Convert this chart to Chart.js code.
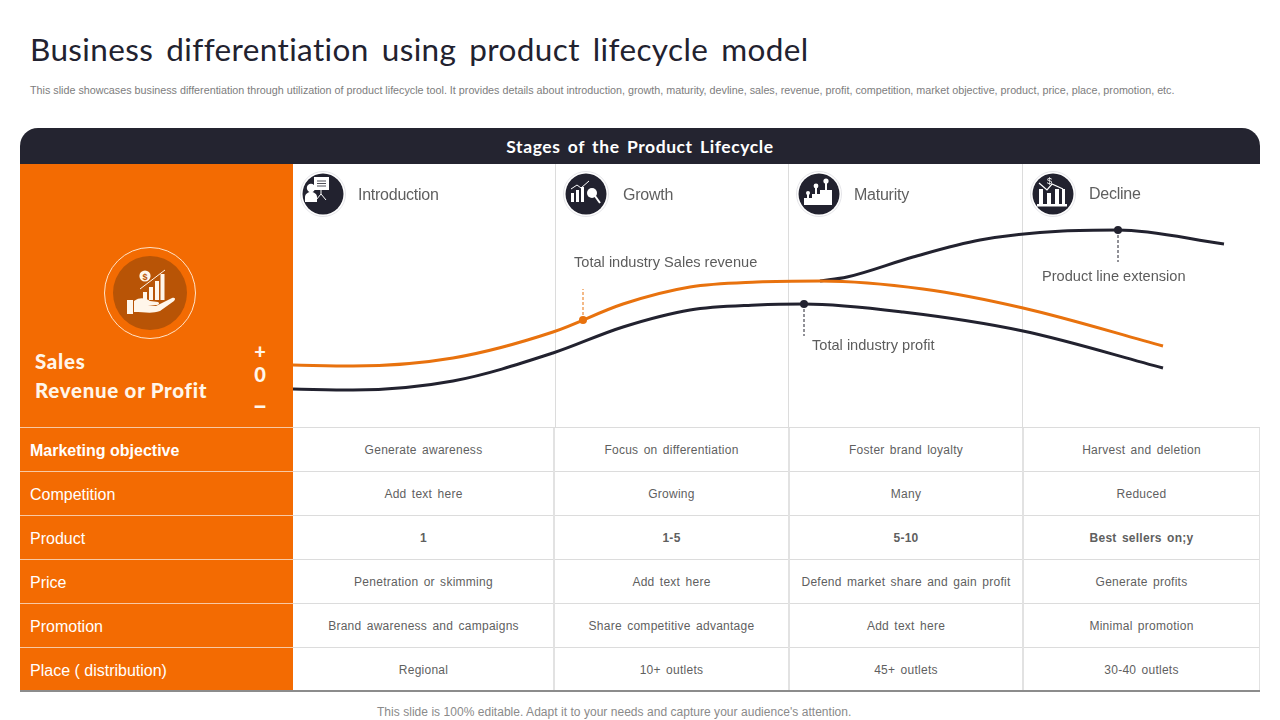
<!DOCTYPE html>
<html>
<head>
<meta charset="utf-8">
<script src="https://cdn.jsdelivr.net/npm/chart.js@4"></script>
<style>
html,body{margin:0;padding:0;background:#fff;width:1280px;height:720px;overflow:hidden;font-family:"Liberation Sans",Arial,sans-serif}
.abs{position:absolute;white-space:nowrap}
#title{left:30px;top:30px;font:400 31.5px Lato,sans-serif;letter-spacing:.38px;word-spacing:4.5px;color:#22222f}
#sub{left:30px;top:84px;font-size:10.75px;color:#7d7d7d}
#band{left:20px;top:128px;width:1240px;height:36px;background:#242430;border-radius:18px 18px 0 0;color:#fff;text-align:center;font:700 17.5px/38px Lato,sans-serif;letter-spacing:.58px;word-spacing:2.5px}
#panel{left:20px;top:164px;width:273px;height:264px;background:#f36b02}
#sr{left:35px;top:347px;color:#fff6ea;font:900 20.5px/29px Lato,sans-serif;letter-spacing:.7px}
.sign{color:#fff6ea;font:900 20px Lato,sans-serif;width:20px;text-align:center;left:250px}
#chartBox{position:absolute;left:293px;top:164px;width:967px;height:264px}
.stage{font-size:16px;color:#5f5f5f;letter-spacing:-.25px}
.note{font-size:14.6px;color:#5c5c5c}
.cell{position:absolute;text-align:center;font-size:12px;color:#5f5f5f;letter-spacing:.26px;word-spacing:1.7px;white-space:nowrap;line-height:45px;height:44px}
.rowh{position:absolute;left:20px;width:263px;padding-left:10px;background:#f36b02;color:#fff;font-size:16px;line-height:45px;height:43px;white-space:nowrap;overflow:hidden}
.hl{position:absolute;height:1px;background:#dcdcdc}
.vl{position:absolute;width:2px;background:#e2e2e2}
#foot{left:377px;top:705px;font-size:12px;color:#8a8a8a;letter-spacing:.035px}
svg.icon{position:absolute;overflow:visible}
</style>
</head>
<body>
<div class="abs" id="title">Business differentiation using product lifecycle model</div>
<div class="abs" id="sub">This slide showcases business differentiation through utilization of product lifecycle tool. It provides details about introduction, growth, maturity, devline, sales, revenue, profit, competition, market objective, product, price, place, promotion, etc.</div>
<div class="abs" id="band">Stages of the Product Lifecycle</div>
<div class="abs" id="panel"></div>

<svg class="icon" style="left:100px;top:243px" width="100" height="100" viewBox="0 0 100 100">
  <circle cx="50" cy="50" r="45.5" fill="none" stroke="#ffe3c8" stroke-width="1"/>
  <circle cx="50" cy="50" r="37" fill="#b85406"/>
  <circle cx="45" cy="33" r="5.6" fill="#fff6ea"/>
  <text x="45" y="36.500" text-anchor="middle" font-size="9" font-weight="700" fill="#b85406" font-family="Liberation Sans">$</text>
  <g fill="#fff6ea">
    <rect x="43" y="49" width="4" height="8"/><rect x="49" y="44" width="4" height="13"/><rect x="55" y="38" width="4" height="19"/><rect x="60.500" y="31" width="4" height="26"/>
    <rect x="27" y="57" width="6" height="14"/>
    <path d="M34 58 C40 54 45 55 50 58 L58 59 C60 60 59 62 56 62 L48 62 L56 63 L72 55 C75 54 76 56 74 58 L60 68 C52 71 44 69 34 69 Z"/>
  </g>
  <path d="M40 46 L65 27" stroke="#fff6ea" stroke-width="1" fill="none"/>
</svg>
<div class="abs" id="sr">Sales<br>Revenue or Profit</div>
<div class="abs sign" style="top:339px">+</div>
<div class="abs sign" style="top:362px">0</div>
<div class="abs sign" style="top:389px;font-size:26px">–</div>

<div id="chartBox"><canvas id="c"></canvas></div>

<div id="stages"></div>
<div id="notes"></div>
<div id="table"></div>
<div class="abs" id="foot">This slide is 100% editable. Adapt it to your needs and capture your audience's attention.</div>

<script>
// ---- chart data (x = lifecycle time units, y = sales / profit level) ----
const salesTime   = [0,60,160,260,330,397,464,527,630,730,870];
const salesValues = [63,62,70,96,124,141,146,147,139,120,82];
const extensionTime   = [527,554,620,687,770,825,931];
const extensionValues = [147,151,171,188,197,198,184];
const profitTime   = [0,60,160,260,330,397,464,511,610,730,870];
const profitValues = [39,38,47,75,101,118,123,124,116,97,60];
const stageBoundaries = [262,495,729];

// callout markers: [time, value on curve, value at end of dashed leader]
const salesCallout     = [290,108,139];
const extensionCallout = [825,198,166];
const profitCallout    = [511,124,92];

// ---- text ----
const stageNames = ["Introduction","Growth","Maturity","Decline"];
const rowLabels = ["Marketing objective","Competition","Product","Price","Promotion","Place ( distribution)"];
const introRow    = ["Generate awareness","Add text here","1","Penetration or skimming","Brand awareness and campaigns","Regional"];
const growthRow   = ["Focus on differentiation","Growing","1-5","Add text here","Share competitive advantage","10+ outlets"];
const maturityRow = ["Foster brand loyalty","Many","5-10","Defend market share and gain profit","Add text here","45+ outlets"];
const declineRow  = ["Harvest and deletion","Reduced","Best sellers on;y","Generate profits","Minimal promotion","30-40 outlets"];

const orange = "#e8720e", dark = "#22222f";
const toXY = (xs,ys) => xs.map((x,i)=>({x,y:ys[i]}));
const callout = (c,color) => ({
  data:[{x:c[0],y:c[1]},{x:c[0],y:c[2]}],
  borderColor:color, borderWidth:1, borderDash:[3,2], showLine:true, tension:0,
  pointRadius:[4,0], pointBackgroundColor:color, pointBorderWidth:0
});
const curve = (data,color) => ({
  data, borderColor:color, borderWidth:3, showLine:true,
  cubicInterpolationMode:"monotone", pointRadius:0, borderCapStyle:"butt"
});

new Chart(document.getElementById("c"),{
  type:"scatter",
  data:{datasets:[
    callout(salesCallout,orange),
    callout(extensionCallout,dark),
    callout(profitCallout,dark),
    curve(toXY(salesTime,salesValues),orange),
    curve(toXY(extensionTime,extensionValues),dark),
    curve(toXY(profitTime,profitValues),dark)
  ]},
  options:{
    animation:false,responsive:true,maintainAspectRatio:false,
    layout:{padding:0,autoPadding:false},
    plugins:{legend:{display:false},tooltip:{enabled:false}},
    scales:{
      x:{type:"linear",min:0,max:967,
        afterBuildTicks:s=>{s.ticks=stageBoundaries.map(v=>({value:v}));},
        ticks:{display:false},
        border:{display:false},
        grid:{color:"#dcdcdc",lineWidth:1,drawTicks:false}},
      y:{display:false,min:0,max:264}
    }
  }
});

// ---- stage headers with icons ----
const stageX = [300,563,796,1030];
const stageLabelX = [358,623,854,1089];
const iconDraw = [
 '<rect x="14" y="6" width="15" height="13" fill="#fff"/><path d="M17 10h9M17 12.500h9M17 15h9" stroke="#242430" stroke-width=".8"/><path d="M21 19v4M21 23l-5 6M21 23l5 6" stroke="#fff" stroke-width="1" fill="none"/><circle cx="11" cy="17" r="4.2" fill="#fff"/><path d="M5 31v-5c0-3 3-5 6-5s6 2 6 5v5z" fill="#fff"/>',
 '<g fill="#fff"><rect x="8" y="22" width="3" height="9"/><rect x="13" y="19" width="3" height="12"/><rect x="18" y="16" width="3" height="15"/></g><path d="M8 18l6-4 4 3 8-7" stroke="#fff" fill="none" stroke-width="1"/><circle cx="29" cy="22" r="5" fill="#fff"/><path d="M32 25l5 7" stroke="#fff" stroke-width="2"/>',
 '<path d="M8 34V27h8v-4h8v-4h12v15z" fill="#fff"/><g stroke="#fff" stroke-width="2" fill="none"><path d="M12 27v-5M20 23v-7M30 19v-8"/></g><g fill="#fff"><circle cx="12" cy="22" r="2"/><circle cx="20" cy="15" r="2.4"/><circle cx="30" cy="10" r="2.6"/></g>',
 '<g fill="#fff"><rect x="9" y="18" width="4" height="15"/><rect x="17" y="22" width="4" height="11"/><rect x="25" y="18" width="4" height="15"/><rect x="32" y="18" width="3" height="15"/><rect x="7" y="33" width="30" height="2.500"/></g><path d="M9 12l8 7 5-6 11 5" stroke="#fff" fill="none" stroke-width="1.200"/><text x="17" y="13" fill="#fff" font-size="9" font-family="Liberation Sans">$</text>'
];
let st = "";
stageNames.forEach((n,i)=>{
  st += `<svg class="icon" style="left:${stageX[i]}px;top:171px" width="46" height="46" viewBox="0 0 46 46"><circle cx="23" cy="23" r="22.500" fill="#fff" stroke="#e4e4e8"/><circle cx="23" cy="23" r="20.500" fill="${dark}"/>${iconDraw[i]}</svg>`;
  st += `<div class="abs stage" style="left:${stageLabelX[i]}px;top:${i==3?185:186}px">${n}</div>`;
});
document.getElementById("stages").innerHTML = st;

// ---- callout labels ----
const notes = [["Total industry Sales revenue",574,254],["Total industry profit",812,337],["Product line extension",1042,268]];
document.getElementById("notes").innerHTML = notes.map(n=>`<div class="abs note" style="left:${n[1]}px;top:${n[2]}px">${n[0]}</div>`).join("");

// ---- table ----
const rowTop = [428,472,516,560,604,648];
const colLeft = [293,554,789,1023], colRight=[554,789,1023,1260];
const cols = [introRow,growthRow,maturityRow,declineRow];
let t = "";
rowLabels.forEach((lab,r)=>{
  t += `<div class="rowh" style="top:${rowTop[r]}px;${r==0?'font-weight:700':''}">${lab}</div>`;
  if(r>0) t += `<div style="position:absolute;left:20px;width:273px;top:${rowTop[r]-1}px;height:1px;background:#f8c9a3"></div>`;
  cols.forEach((c,i)=>{
    t += `<div class="cell" style="left:${colLeft[i]}px;width:${colRight[i]-colLeft[i]}px;top:${rowTop[r]-.5}px;${r==2?'font-weight:700':''}">${c[r]}</div>`;
  });
  t += `<div class="hl" style="left:293px;width:967px;top:${rowTop[r]-1}px"></div>`;
});
t += `<div style="position:absolute;left:20px;width:273px;top:427px;height:1px;background:#f8c9a3"></div>`;
t += `<div class="hl" style="left:20px;width:1240px;top:690px;height:2px;background:#8c8c8c"></div>`;
[553,788,1022].forEach(x=> t+=`<div class="vl" style="left:${x}px;top:428px;height:262px"></div>`);
t += `<div class="vl" style="left:1259px;top:428px;height:262px;width:1px"></div>`;
document.getElementById("table").innerHTML = t;
</script>
</body>
</html>
